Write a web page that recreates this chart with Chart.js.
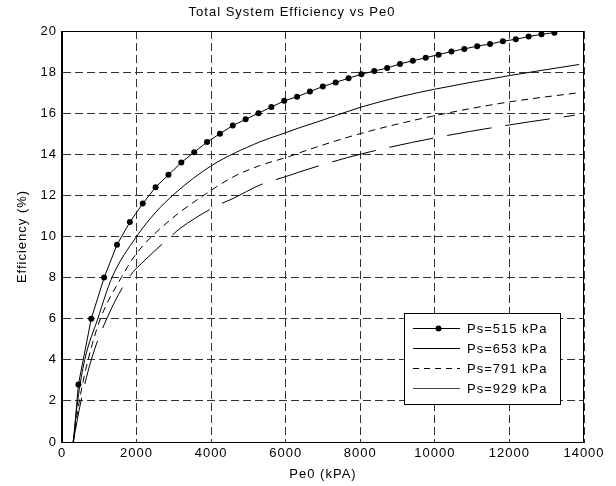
<!DOCTYPE html>
<html>
<head>
<meta charset="utf-8">
<script src="https://cdn.jsdelivr.net/npm/chart.js@4.4.0/dist/chart.umd.min.js"></script>
<style>
  body { margin: 0; background: #fff; }
  #wrap { width: 616px; height: 486px; }
</style>
</head>
<body>
<div id="wrap"><canvas id="effChart" width="616" height="486"></canvas></div>
<script>
// values (Pe0 in kPa, efficiency in %)
const seriesLabels = ['Ps=515 kPa', 'Ps=653 kPa', 'Ps=791 kPa', 'Ps=929 kPa'];

const pe0_515 = [310, 440, 785, 1130, 1475, 1820, 2165, 2510, 2855, 3200, 3545, 3890, 4235, 4580, 4925,
  5270, 5615, 5960, 6305, 6650, 6995, 7340, 7685, 8030, 8375, 8720, 9065, 9410, 9755, 10100,
  10445, 10790, 11135, 11480, 11825, 12170, 12515, 12860, 13205];
const eff_515 = [0, 2.8, 6.0, 8.0, 9.6, 10.7, 11.6, 12.4, 13.0, 13.6, 14.1, 14.6, 15.0, 15.4, 15.7,
  16.0, 16.3, 16.6, 16.8, 17.05, 17.3, 17.5, 17.7, 17.9, 18.05, 18.2, 18.4, 18.55, 18.7, 18.85,
  19.0, 19.13, 19.26, 19.37, 19.5, 19.6, 19.73, 19.84, 19.92];

const pe0_653 = [300, 420, 610, 960, 1340, 2000, 2500, 3030, 4010, 5300, 5840, 6380, 6920, 7990, 9060, 10000, 12000, 13870];
const eff_653 = [0, 2, 4, 6, 8, 10, 11.15, 12.1, 13.45, 14.6, 14.95, 15.3, 15.62, 16.28, 16.8, 17.17, 17.83, 18.37];

const pe0_791 = [300, 465, 700, 1030, 1590, 2000, 2900, 3880, 4590, 5300, 6110, 6380, 7990, 10000, 12000, 13870];
const eff_791 = [0, 2, 4, 6, 8, 9.18, 10.8, 12.1, 12.9, 13.45, 13.9, 14.08, 15.0, 15.88, 16.55, 17.0];

const pe0_929 = [300, 510, 785, 1200, 1790, 2225, 2805, 3165, 4190, 4590, 5300, 6110, 6380, 7990, 10000, 12000, 13750];
const eff_929 = [0, 2, 4, 6, 8, 8.85, 9.82, 10.39, 11.53, 11.85, 12.5, 12.98, 13.15, 14.0, 14.8, 15.43, 15.9];

function pts(xs, ys) {
  return xs.map((x, i) => ({x: x, y: ys[i]}));
}

const FONT = "'Liberation Sans', Arial, sans-serif";
Chart.defaults.font.family = FONT;
Chart.defaults.font.size = 13;
Chart.defaults.color = '#000';

// MATLAB style text is a bit spread out
const spacing = {
  id: 'spacing',
  beforeLayout(c) { c.ctx.letterSpacing = '1px'; },
  beforeDraw(c) {
    c.ctx.letterSpacing = '1px';
    c.ctx.save();
    c.ctx.fillStyle = '#fff';
    c.ctx.fillRect(0, 0, c.width, c.height);
    c.ctx.restore();
  }
};

// box round the plot + legend inside it
const frameAndLegend = {
  id: 'frameAndLegend',
  afterDraw(c) {
    const ctx = c.ctx;
    const a = c.chartArea;
    ctx.save();
    ctx.strokeStyle = '#000';
    ctx.lineWidth = 1;
    ctx.setLineDash([]);
    ctx.strokeRect(Math.round(a.left) - 0.5, Math.round(a.top) + 0.5, Math.round(a.right - a.left), Math.round(a.bottom - a.top));

    // legend
    const bx = 404.5, by = 313.5, bw = 156, bh = 91;
    ctx.fillStyle = '#fff';
    ctx.fillRect(bx, by, bw, bh);
    ctx.strokeRect(bx, by, bw, bh);
    ctx.font = '13px ' + FONT;
    ctx.letterSpacing = '1px';
    ctx.textBaseline = 'middle';
    ctx.textAlign = 'left';
    const legendDash = [[], [], [6, 5], []];
    c.data.datasets.forEach((ds, i) => {
      const y = 328.5 + i * 20;
      ctx.beginPath();
      ctx.setLineDash(legendDash[i]);
      ctx.strokeStyle = i === 3 ? '#444' : '#000';
      ctx.moveTo(413, y);
      ctx.lineTo(460, y);
      ctx.stroke();
      ctx.setLineDash([]);
      if (i === 0) {
        ctx.beginPath();
        ctx.fillStyle = '#000';
        ctx.arc(438.5, y, 3, 0, Math.PI * 2);
        ctx.fill();
      }
      ctx.fillStyle = '#000';
      ctx.fillText(ds.label, 467, y + 1);
    });
    ctx.restore();
  }
};

new Chart(document.getElementById('effChart'), {
  type: 'line',
  data: {
    datasets: [
      {
        label: seriesLabels[0],
        data: pts(pe0_515, eff_515),
        borderColor: '#000',
        backgroundColor: '#000',
        borderWidth: 1,
        pointRadius: (p) => p.dataIndex === 0 ? 0 : 3,
        pointBorderWidth: 0,
        tension: 0
      },
      {
        label: seriesLabels[1],
        data: pts(pe0_653, eff_653),
        borderColor: '#000',
        borderWidth: 1,
        pointRadius: 0,
        cubicInterpolationMode: 'monotone'
      },
      {
        label: seriesLabels[2],
        data: pts(pe0_791, eff_791),
        borderColor: '#000',
        borderWidth: 1,
        borderDash: [7, 5],
        pointRadius: 0,
        cubicInterpolationMode: 'monotone'
      },
      {
        label: seriesLabels[3],
        data: pts(pe0_929, eff_929),
        borderColor: '#000',
        borderWidth: 1,
        borderDash: [45, 14],
        pointRadius: 0,
        cubicInterpolationMode: 'monotone'
      }
    ]
  },
  options: {
    responsive: false,
    animation: false,
    devicePixelRatio: 1,
    layout: { padding: { top: 0, right: 32, bottom: 0, left: 0 } },
    plugins: {
      legend: { display: false },
      tooltip: { enabled: false },
      title: {
        display: true,
        text: 'Total System Efficiency vs Pe0',
        font: { size: 13, weight: 'normal' },
        padding: { top: 5, bottom: 10.4 }
      }
    },
    scales: {
      x: {
        type: 'linear',
        min: 0,
        max: 14000,
        afterFit(s) { s.height = 44; },
        ticks: {
          stepSize: 2000,
          maxRotation: 0,
          padding: 4,
          callback: (v) => String(v)
        },
        grid: { color: '#333', drawTicks: false },
        border: { color: '#000', dash: [8, 4] },
        title: {
          display: true,
          text: 'Pe0 (kPA)',
          padding: { top: 0, bottom: 4.2 }
        }
      },
      y: {
        min: 0,
        max: 20,
        afterFit(s) { s.width = 62; },
        ticks: {
          stepSize: 2,
          padding: 5,
          callback: (v) => String(v)
        },
        grid: { color: '#333', drawTicks: false },
        border: { color: '#000', dash: [8, 4] },
        title: {
          display: true,
          text: 'Efficiency (%)',
          padding: { top: 15, bottom: 0 }
        }
      }
    }
  },
  plugins: [spacing, frameAndLegend]
});
</script>
</body>
</html>
